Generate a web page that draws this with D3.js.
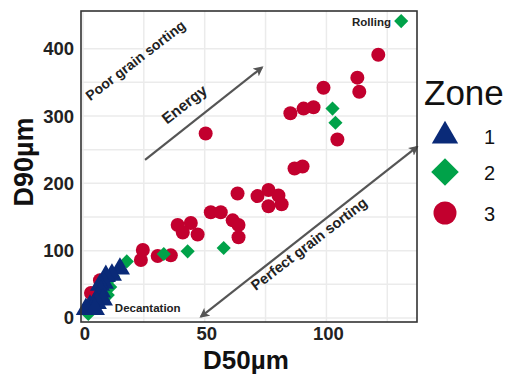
<!DOCTYPE html>
<html>
<head>
<meta charset="utf-8">
<script src="https://cdn.jsdelivr.net/npm/d3@7"></script>
<style>
  body { margin: 0; background: #fff; }
  text { font-family: "Liberation Sans", Arial, sans-serif; }
</style>
</head>
<body>
<div id="container"></div>
<script>
// zone 3 (red circles)
const zone3D50 = [50.4, 121.3, 112.7, 113.5, 98.8, 85.2, 90.6, 94.7, 104.5, 86.9, 90.2, 71.7, 76.2, 80.3, 76.2, 81.6, 63.5, 52.5, 56.6, 61.5, 63.9, 63.9, 38.9, 44.3, 41.0, 47.1, 24.6, 23.8, 30.7, 36.1, 7.0, 3.3]
const zone3D90 = [274, 391, 357, 336, 342, 304, 311, 313, 265, 222, 225, 181, 190, 182, 166, 169, 185, 157, 157, 145, 138, 120, 138, 141, 127, 124, 101, 86, 92, 93, 56, 37]
// zone 2 (green diamonds)
const zone2D50 = [130.7, 102.5, 103.7, 57.8, 43.0, 33.2, 18.0, 12.3, 11.2, 10.2, 5.5, 2.2]
const zone2D90 = [441, 311, 290, 104, 99, 95, 84, 62, 46, 34, 20, 6]
// zone 1 (blue triangles)
const zone1D50 = [15.2, 11.9, 9.4, 8.6, 7.0, 7.4, 6.2, 8.2, 5.7, 2.9, 4.1, 1.2, 4.9]
const zone1D90 = [73, 64, 62, 52, 49, 39, 31, 27, 22, 18, 16, 13, 13]

const zones = ["1", "2", "3"]
const xTicks = [0, 50, 100]
const yTicks = [0, 100, 200, 300, 400]
const xGrid = [0, 25, 50, 75, 100, 125]
const yGrid = [0, 50, 100, 150, 200, 250, 300, 350, 400]

let w = 514, h = 374
let pL = 81, pR = 417, pT = 11, pB = 322

let svg = d3.select("#container").append("svg")
    .attr("width", w)
    .attr("height", h)

let x = d3.scaleLinear().domain([-0.8, 137.2]).range([pL, pR])
let y = d3.scaleLinear().domain([-6, 456]).range([pB, pT])

let colors = { "1": "#0a2a78", "2": "#00a249", "3": "#c2002e" }

// grid
svg.append("g").selectAll("line").data(xGrid).join("line")
    .attr("x1", d => x(d)).attr("x2", d => x(d))
    .attr("y1", pT).attr("y2", pB)
    .attr("stroke", "#ebebeb").attr("stroke-width", 1.5)
svg.append("g").selectAll("line").data(yGrid).join("line")
    .attr("x1", pL).attr("x2", pR)
    .attr("y1", d => y(d)).attr("y2", d => y(d))
    .attr("stroke", "#ebebeb").attr("stroke-width", 1.5)

// arrows
let defs = svg.append("defs")
defs.append("marker")
    .attr("id", "head")
    .attr("viewBox", "0 0 10 10")
    .attr("refX", 8).attr("refY", 5)
    .attr("markerWidth", 4.5).attr("markerHeight", 4.5)
    .attr("orient", "auto-start-reverse")
    .append("path")
    .attr("d", "M0,0 L10,5 L0,10 L2.5,5 Z")
    .attr("fill", "#555")

let arrows = [
    { x1: 25.5, y1: 235, x2: 73.5, y2: 372, both: false },
    { x1: 48.5, y1: 2, x2: 137.2, y2: 254, both: true }
]
arrows.forEach(a => {
    let l = svg.append("line")
        .attr("x1", x(a.x1)).attr("y1", y(a.y1))
        .attr("x2", x(a.x2)).attr("y2", y(a.y2))
        .attr("stroke", "#555").attr("stroke-width", 2.2)
        .attr("marker-end", "url(#head)")
    if (a.both) l.attr("marker-start", "url(#head)")
})

// points
let zone3 = zone3D50.map((d, i) => ({ a: d, b: zone3D90[i] }))
let zone2 = zone2D50.map((d, i) => ({ a: d, b: zone2D90[i] }))
let zone1 = zone1D50.map((d, i) => ({ a: d, b: zone1D90[i] }))

svg.append("g").selectAll("circle").data(zone3).join("circle")
    .attr("cx", d => x(d.a)).attr("cy", d => y(d.b))
    .attr("r", 7)
    .attr("fill", colors["3"])

svg.append("g").selectAll("path").data(zone2).join("path")
    .attr("d", d3.symbol(d3.symbolSquare, 100))
    .attr("transform", d => `translate(${x(d.a)},${y(d.b)}) rotate(45)`)
    .attr("fill", colors["2"])

svg.append("g").selectAll("path").data(zone1).join("path")
    .attr("d", d3.symbol(d3.symbolTriangle, 175))
    .attr("transform", d => `translate(${x(d.a)},${y(d.b)})`)
    .attr("fill", colors["1"])

// frame
svg.append("rect")
    .attr("x", pL).attr("y", pT)
    .attr("width", pR - pL).attr("height", pB - pT)
    .attr("fill", "none").attr("stroke", "#333").attr("stroke-width", 1.6)

// tick labels
svg.append("g").selectAll("text").data(xTicks).join("text")
    .attr("x", d => x(d) + 2).attr("y", 340)
    .attr("text-anchor", "middle")
    .attr("font-size", 18.5).attr("font-weight", "bold").attr("fill", "#222")
    .text(d => d)
svg.append("g").selectAll("text").data(yTicks).join("text")
    .attr("x", 74).attr("y", d => y(d) + 6.5)
    .attr("text-anchor", "end")
    .attr("font-size", 18.5).attr("font-weight", "bold").attr("fill", "#222")
    .text(d => d)

// axis titles
svg.append("text")
    .attr("x", 246).attr("y", 369)
    .attr("text-anchor", "middle")
    .attr("font-size", 26).attr("font-weight", "bold").attr("fill", "#111")
    .text("D50µm")
svg.append("text")
    .attr("transform", "translate(33,162) rotate(-90)")
    .attr("text-anchor", "middle")
    .attr("font-size", 27).attr("font-weight", "bold").attr("fill", "#111")
    .text("D90µm")

// annotations
let notes = [
    { t: "Poor grain sorting", a: 3.0, b: 322, rot: -37.5, size: 14 },
    { t: "Energy", a: 34.5, b: 287, rot: -38, size: 15.5 },
    { t: "Perfect grain sorting", a: 71, b: 40, rot: -37.5, size: 14.5 }
]
notes.forEach(n => {
    svg.append("text")
        .attr("transform", `translate(${x(n.a)},${y(n.b)}) rotate(${n.rot})`)
        .attr("font-size", n.size).attr("font-weight", "bold").attr("fill", "#222")
        .text(n.t)
})
svg.append("text")
    .attr("x", x(13.1)).attr("y", y(9))
    .attr("font-size", 11.5).attr("font-weight", "bold").attr("fill", "#222")
    .text("Decantation")
svg.append("text")
    .attr("x", x(126.5)).attr("y", y(433))
    .attr("text-anchor", "end")
    .attr("font-size", 11.5).attr("font-weight", "bold").attr("fill", "#222")
    .text("Rolling")

// legend
let lg = svg.append("g")
lg.append("text")
    .attr("x", 424).attr("y", 105)
    .attr("font-family", "Open Sans, sans-serif")
    .attr("font-size", 35).attr("fill", "#111")
    .text("Zone")
let legY = { "1": 136, "2": 172, "3": 213 }
let legSym = {
    "1": d3.symbol(d3.symbolTriangle, 300)(),
    "2": d3.symbol(d3.symbolSquare, 380)(),
    "3": d3.symbol(d3.symbolCircle, 415)()
}
zones.forEach(z => {
    lg.append("path")
        .attr("d", legSym[z])
        .attr("transform", `translate(445,${legY[z]})` + (z === "2" ? " rotate(45)" : ""))
        .attr("fill", colors[z])
    lg.append("text")
        .attr("x", 484).attr("y", legY[z] + 8)
        .attr("font-family", "Open Sans, sans-serif")
        .attr("font-size", 20).attr("fill", "#111")
        .text(z)
})
</script>
</body>
</html>
